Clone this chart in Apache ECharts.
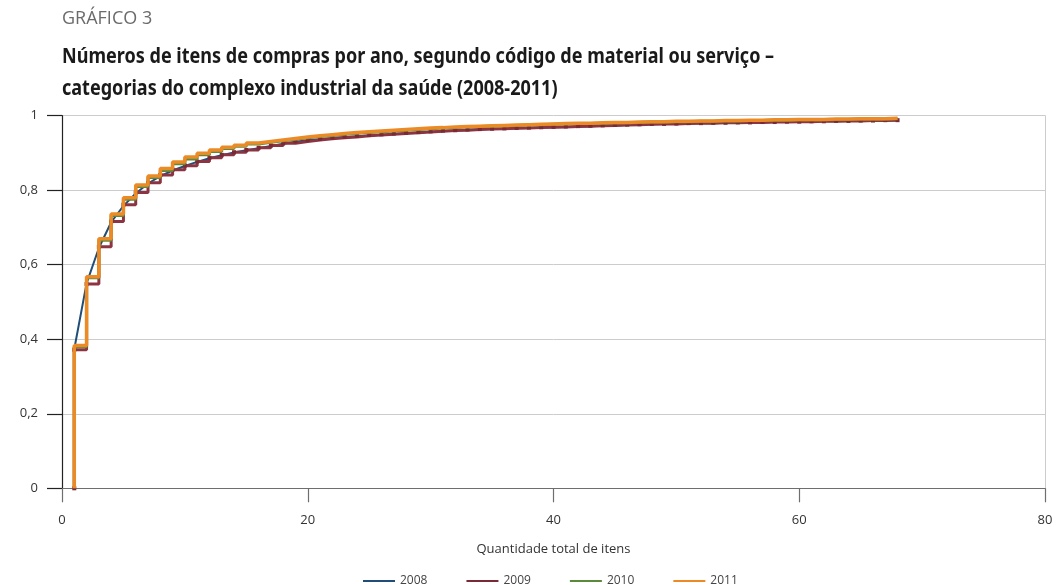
<!DOCTYPE html>
<html>
<head>
<meta charset="utf-8">
<style>
html,body{margin:0;padding:0;background:#fff;}
#chart{width:1058px;height:585px;}
</style>
<script src="https://cdn.jsdelivr.net/npm/echarts@6/dist/echarts.min.js"></script>
</head>
<body>
<div id="chart"></div>
<script>
// Quantidade total de itens (x positions of the cumulative steps)
const quantidade = [1,2,3,4,5,6,7,8,9,10,11,12,13,14,15,16,17,18,19,20,21,22,23,24,25,26,27,28,29,30,31,32,33,34,35,36,37,38,39,40,41,42,43,44,45,46,47,48,49,50,51,52,53,54,55,56,57,58,59,60,61,62,63,64,65,66,67,68];

const anos = ['2008','2009','2010','2011'];

const v2008 = [0.374,0.550,0.645,0.714,0.758,0.791,0.818,0.838,0.853,0.865,0.876,0.886,0.894,0.901,0.907,0.913,0.919,0.925,0.930,0.934,0.937,0.940,0.943,0.945,0.947,0.949,0.951,0.953,0.955,0.957,0.959,0.960,0.962,0.963,0.964,0.965,0.966,0.967,0.968,0.969,0.970,0.971,0.972,0.973,0.974,0.975,0.976,0.977,0.978,0.978,0.979,0.980,0.980,0.981,0.981,0.982,0.982,0.983,0.983,0.984,0.984,0.985,0.985,0.986,0.986,0.987,0.987,0.988];

const v2009 = [0.372,0.548,0.648,0.716,0.761,0.794,0.820,0.841,0.855,0.866,0.877,0.887,0.895,0.902,0.908,0.914,0.920,0.926,0.931,0.935,0.938,0.941,0.943,0.946,0.948,0.950,0.952,0.954,0.956,0.958,0.960,0.961,0.963,0.964,0.965,0.966,0.967,0.968,0.969,0.970,0.971,0.972,0.973,0.974,0.975,0.976,0.977,0.978,0.978,0.979,0.980,0.980,0.981,0.981,0.982,0.982,0.983,0.983,0.984,0.984,0.985,0.985,0.986,0.986,0.987,0.987,0.988,0.988];

const v2010 = [0.380,0.565,0.666,0.732,0.776,0.810,0.834,0.853,0.871,0.884,0.895,0.904,0.912,0.918,0.924,0.929,0.933,0.937,0.941,0.944,0.947,0.950,0.953,0.955,0.957,0.959,0.961,0.963,0.965,0.967,0.968,0.970,0.971,0.972,0.973,0.974,0.975,0.976,0.977,0.978,0.979,0.979,0.980,0.981,0.981,0.982,0.983,0.983,0.984,0.984,0.985,0.985,0.986,0.986,0.987,0.987,0.988,0.988,0.989,0.989,0.989,0.990,0.990,0.991,0.991,0.991,0.992,0.992];

const v2011 = [0.383,0.568,0.670,0.736,0.780,0.814,0.838,0.858,0.876,0.889,0.899,0.908,0.915,0.921,0.927,0.931,0.935,0.939,0.943,0.946,0.949,0.952,0.955,0.957,0.959,0.961,0.963,0.965,0.967,0.968,0.970,0.971,0.972,0.973,0.974,0.975,0.976,0.977,0.978,0.979,0.980,0.980,0.981,0.982,0.982,0.983,0.984,0.984,0.985,0.985,0.986,0.986,0.987,0.987,0.988,0.988,0.989,0.989,0.990,0.990,0.990,0.991,0.991,0.992,0.992,0.992,0.993,0.993];

const titulo = 'GRÁFICO 3';
const subtitulo = 'Números de itens de compras por ano, segundo código de material ou serviço –\ncategorias do complexo industrial da saúde (2008-2011)';
const eixoX = 'Quantidade total de itens';

function pts(vals){
  // cumulative curve starts at zero at the first quantity
  const out = [[quantidade[0], 0]];
  vals.forEach((v,i)=>out.push([quantidade[i], v]));
  return out;
}

const FONT = '"Open Sans", "Noto Sans", sans-serif';
const chart = echarts.init(document.getElementById('chart'), null, {renderer:'canvas'});

chart.setOption({
  animation:false,
  backgroundColor:'#ffffff',
  title:[
    {text:titulo, left:62, top:10, padding:0,
     textStyle:{fontFamily:FONT, fontSize:18, fontWeight:'normal', color:'#6b6b6b'}}
  ],
  graphic:[{
    type:'text', x:62, y:41, scaleX:0.82, scaleY:1, originX:0, originY:0,
    style:{text:subtitulo, font:'bold 22px "Noto Sans", sans-serif', fill:'#1a1a1a',
           lineHeight:32, verticalAlign:'top', align:'left'}
  }],
  legend:{
    top:570, left:358,
    itemWidth:32, itemHeight:2, itemGap:39, icon:'rect',
    textStyle:{fontFamily:FONT, fontSize:12, color:'#444'},
    data:anos
  },
  grid:{left:62, right:13, top:115.7, bottom:96.7, containLabel:false},
  xAxis:{
    type:'value', min:0, max:80, interval:20,
    name:eixoX, nameLocation:'middle', nameGap:54,
    nameTextStyle:{fontFamily:FONT, fontSize:13, color:'#333'},
    axisLine:{show:true, onZero:false, lineStyle:{color:'#6e6e6e', width:1.2}},
    axisTick:{show:true, length:14, lineStyle:{color:'#6e6e6e', width:1.2}},
    axisLabel:{fontFamily:FONT, fontSize:13, color:'#333', margin:25},
    splitLine:{show:false}
  },
  yAxis:[{
    type:'value', min:0, max:1, interval:0.2,
    axisLine:{show:true, lineStyle:{color:'#222', width:1.2}},
    axisTick:{show:true, length:15, lineStyle:{color:'#222', width:1.2}},
    axisLabel:{fontFamily:FONT, fontSize:13, color:'#333', margin:24,
      formatter:v=>String(Math.round(v*10)/10).replace('.',',')},
    splitLine:{show:true, lineStyle:{color:'#cccccc', width:1}}
  },{
    type:'value', min:0, max:1, interval:0.2, position:'right',
    axisLine:{show:true, lineStyle:{color:'#cccccc', width:1}},
    axisTick:{show:false}, axisLabel:{show:false}, splitLine:{show:false}
  }],
  series:[
    {name:'2008', type:'line', data:pts(v2008), showSymbol:false, symbol:'none',
     lineStyle:{color:'#1f4e79', width:2}, itemStyle:{color:'#1f4e79'}, z:2},
    {name:'2009', type:'line', step:'end', data:pts(v2009), showSymbol:true, symbol:'rect', symbolSize:4,
     lineStyle:{color:'#8c3441', width:3}, itemStyle:{color:'#7a2a36'}, z:3},
    {name:'2010', type:'line', step:'end', data:pts(v2010), showSymbol:false, symbol:'none',
     lineStyle:{color:'#5b8a3c', width:3}, itemStyle:{color:'#5b8a3c'}, z:4},
    {name:'2011', type:'line', step:'end', data:pts(v2011), showSymbol:false, symbol:'none',
     lineStyle:{color:'#ec8a25', width:3.5}, itemStyle:{color:'#ec8a25'}, z:5}
  ]
});
</script>
</body>
</html>
